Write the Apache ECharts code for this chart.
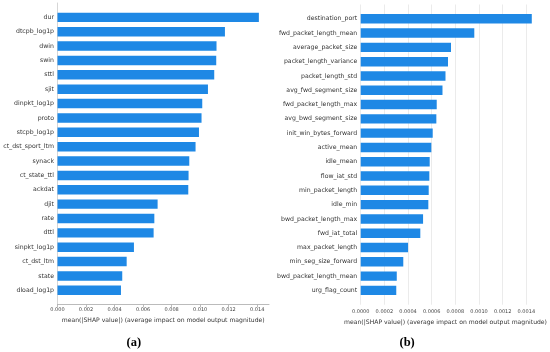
<!DOCTYPE html>
<html><head><meta charset="utf-8">
<script src="https://cdn.jsdelivr.net/npm/echarts@6/dist/echarts.min.js"></script>
<style>html,body{margin:0;padding:0;background:#fff}#c{width:550px;height:352px}</style>
</head><body><div id="c"></div>
<script>
// ---- data ----
var catA = ['dur','dtcpb_log1p','dwin','swin','sttl','sjit','dinpkt_log1p','proto','stcpb_log1p','ct_dst_sport_ltm','synack','ct_state_ttl','ackdat','djit','rate','dttl','sinpkt_log1p','ct_dst_ltm','state','dload_log1p'];
var valA = [0.01412,0.01174,0.01115,0.01113,0.01099,0.01055,0.01015,0.01010,0.00992,0.00968,0.00924,0.00919,0.00917,0.00702,0.00679,0.00674,0.00536,0.00485,0.00454,0.00445];
var catB = ['destination_port','fwd_packet_length_mean','average_packet_size','packet_length_variance','packet_length_std','avg_fwd_segment_size','fwd_packet_length_max','avg_bwd_segment_size','init_win_bytes_forward','active_mean','idle_mean','flow_iat_std','min_packet_length','idle_min','bwd_packet_length_max','fwd_iat_total','max_packet_length','min_seg_size_forward','bwd_packet_length_mean','urg_flag_count'];
var valB = [0.001366,0.000907,0.000721,0.000697,0.000677,0.000653,0.000607,0.000604,0.000575,0.000564,0.000551,0.000548,0.000543,0.000540,0.000498,0.000476,0.000378,0.000340,0.000288,0.000284];
var ticksA = [0,0.002,0.004,0.006,0.008,0.010,0.012,0.014];
var ticksB = [0,0.0002,0.0004,0.0006,0.0008,0.0010,0.0012,0.0014];
var maxA = 0.01483, maxB = 0.001434;
var xName = 'mean(|SHAP value|) (average impact on model output magnitude)';
var captions = ['(a)','(b)'];

// ---- layout ----
var FONT = 'DejaVu Sans';
var fA = {left:57.5, top:3, width:211.5, height:301.7};
var fB = {left:360.7, top:4.5, width:179.6, height:300.2};
function barGrid(f){ var band=f.height/21; return {left:f.left, top:f.top+band/2, width:f.width, height:f.height-band}; }
var bA = barGrid(fA), bB = barGrid(fB);
var BLUE = '#1E88E5';

var chart = echarts.init(document.getElementById('c'), null, {renderer:'canvas'});
function cat(gi, data){
  return {type:'category', gridIndex:gi, data:data, inverse:true,
    axisLine:{show:false}, axisTick:{show:false}, splitLine:{show:false},
    axisLabel:{fontFamily:FONT, fontSize:6.2, color:'#333', margin:3.5}};
}
function hiddenX(gi,max){ return {type:'value', gridIndex:gi, min:0, max:max, show:false}; }
var capStyle = {fontFamily:'Liberation Serif', fontWeight:'bold', fontSize:12.5, color:'#000'};
chart.setOption({
  animation:false,
  title:[
    {text:captions[0], left:126.5, top:336.5, padding:0, textStyle:capStyle},
    {text:captions[1], left:399.5, top:336.5, padding:0, textStyle:capStyle}
  ],
  grid:[
    Object.assign({containLabel:false}, bA),
    Object.assign({containLabel:false}, fA),
    Object.assign({containLabel:false}, bB),
    Object.assign({containLabel:false}, fB)
  ],
  xAxis:[
    hiddenX(0,maxA),
    {type:'value', gridIndex:1, min:0, max:maxA,
     axisLine:{show:true, lineStyle:{color:'#aaa', width:0.8}},
     axisTick:{show:true, length:2.5, lineStyle:{color:'#aaa', width:0.8}, customValues:ticksA},
     axisLabel:{fontFamily:FONT, fontSize:5, color:'#444', margin:3, customValues:ticksA,
       formatter:function(v){return v.toFixed(3);}},
     splitLine:{show:false},
     name:xName, nameLocation:'middle', nameGap:11.5,
     nameTextStyle:{fontFamily:FONT, fontSize:6.1, color:'#333'}},
    hiddenX(2,maxB),
    {type:'value', gridIndex:3, min:0, max:maxB, interval:0.0002,
     axisLine:{show:false},
     axisTick:{show:false},
     axisLabel:{fontFamily:FONT, fontSize:5, color:'#444', margin:4.5, customValues:ticksB,
       formatter:function(v){return v.toFixed(4);}},
     splitLine:{show:true, showMinLine:true, showMaxLine:false, lineStyle:{color:'#e6e6e6', width:0.8}},
     name:xName, nameLocation:'middle', nameGap:11.5,
     nameTextStyle:{fontFamily:FONT, fontSize:6.1, color:'#333'}}
  ],
  yAxis:[
    cat(0,catA),
    {type:'value', gridIndex:1, min:0, max:1, axisLine:{show:true, lineStyle:{color:'#ccc', width:0.8}},
     axisTick:{show:false}, axisLabel:{show:false}, splitLine:{show:false}},
    cat(2,catB),
    {type:'value', gridIndex:3, min:0, max:1, show:false}
  ],
  series:[
    {type:'bar', xAxisIndex:0, yAxisIndex:0, data:valA, barWidth:'66%', itemStyle:{color:BLUE}, z:3},
    {type:'bar', xAxisIndex:2, yAxisIndex:2, data:valB, barWidth:'66%', itemStyle:{color:BLUE}, z:3}
  ]
});
</script></body></html>
